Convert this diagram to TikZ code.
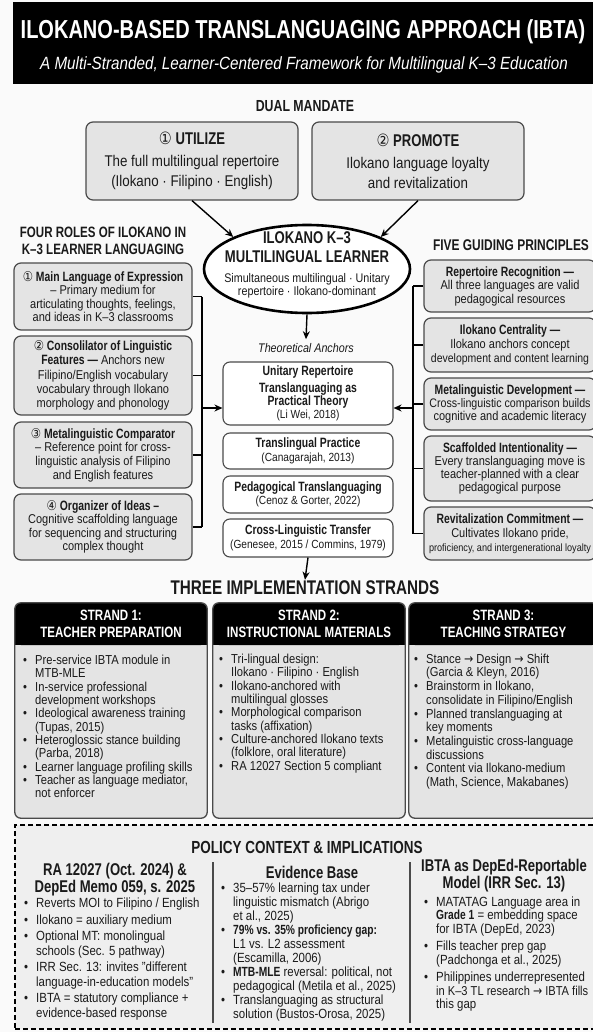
\documentclass[tikz,border=0pt]{standalone}
\usepackage{fontspec}
\setmainfont{Liberation Sans}[UprightFeatures={FakeStretch=0.86},BoldFeatures={FakeStretch=0.77},ItalicFeatures={FakeStretch=0.86},BoldItalicFeatures={FakeStretch=0.77}]
\newfontfamily\dejavu{DejaVu Sans}[FakeStretch=0.85]
\usetikzlibrary{shapes.geometric,arrows.meta}
\newcommand\fsz[2]{\fontsize{#1}{#2}\selectfont}
\newcommand\bitem{\makebox[12pt][l]{\textbullet}}
\newcommand\bcont{\hspace*{12pt}}
\newcommand\cnum[1]{{\dejavu\mdseries #1}}
\newcommand\rarr{{\dejavu\mdseries →}}
\definecolor{boxfill}{HTML}{E4E4E4}
\definecolor{edge}{HTML}{4A4A4A}
\definecolor{ink}{HTML}{1A1A1A}
\definecolor{polfill}{HTML}{EFEFEF}
\definecolor{bg}{HTML}{FAFAFA}
\begin{document}
\begin{tikzpicture}[x=1pt,y=-1pt,
  lbox/.style={draw=edge, fill=boxfill, line width=1.2pt, rounded corners=7pt, align=center, inner sep=0pt, text=ink},
  tbox/.style={draw=edge, fill=white, line width=1.1pt, rounded corners=7pt, align=center, inner sep=0pt, text=ink},
  txt/.style={inner sep=0pt, align=center, text=ink},
  ltxt/.style={inner sep=0pt, align=left, text=ink, anchor=west},
  sbox/.style={fill=boxfill, inner sep=0pt, rounded corners=6pt},
  sedge/.style={draw=edge, line width=1.3pt, rounded corners=6pt},
  shead/.style={inner sep=0pt, align=center, text=white, font=\fsz{15}{17}\bfseries},
  arr/.style={-{Stealth[length=8pt,width=7pt]}, line width=1.4pt, draw=black},
  brk/.style={line width=1.3pt, draw=black},
  sep/.style={line width=1.2pt, draw=edge}]
\useasboundingbox (0,0) rectangle (592,1032);
\fill[bg] (0,0) rectangle (592,1032);

% title
\node[fill=black, minimum width=592pt, minimum height=82pt, inner sep=0pt, anchor=north west] (titlebar) at (13,2) {};
\node[txt, text=white, font=\fsz{26}{28}\bfseries] (title) at (303,32) {ILOKANO-BASED TRANSLANGUAGING APPROACH (IBTA)};
\node[txt, text=white, font=\fsz{17.7}{20}\itshape] (subtitle) at (304,65) {A Multi-Stranded, Learner-Centered Framework for Multilingual K–3 Education};

% dual mandate
\node[txt, font=\fsz{16}{18}\bfseries] (dm) at (305,106) {DUAL MANDATE};
\node[lbox, minimum width=212pt, minimum height=78pt, font=\fsz{15.5}{20}] (u) at (192,161)
  {{\fsz{17}{20}\bfseries\cnum{①} UTILIZE}\\[2pt] The full multilingual repertoire\\ (Ilokano · Filipino · English)};
\node[lbox, minimum width=212pt, minimum height=78pt, font=\fsz{15.5}{20}] (p) at (418,161)
  {{\fsz{17}{20}\bfseries\cnum{②} PROMOTE}\\[2pt] Ilokano language loyalty\\ and revitalization};

% learner
\node[draw=black, fill=white, ellipse, line width=2.6pt, minimum width=206pt, minimum height=88pt, inner sep=0pt] (learner) at (307,269) {};
\node[txt, font=\fsz{12.5}{13.5}] (learnertxt) at (307,265)
  {{\fsz{17}{19}\bfseries ILOKANO K–3}\\[5.5pt] {\fsz{17}{19}\bfseries MULTILINGUAL LEARNER}\\[6.5pt] Simultaneous multilingual · Unitary\\ repertoire · Ilokano-dominant};
\draw[arr] (u.south) -- (learner.north west);
\draw[arr] (p.south) -- (learner.north east);

% left column
\node[txt, font=\fsz{15}{17}\bfseries] (fourh) at (103,241) {FOUR ROLES OF ILOKANO IN\\ K–3 LEARNER LANGUAGING};
\node[lbox, minimum width=178pt, minimum height=67pt, font=\fsz{12.8}{13.4}] (r1) at (103,296.5)
  {{\fsz{13.5}{13.4}\bfseries\cnum{①} Main Language of Expression}\\ – Primary medium for\\ articulating thoughts, feelings,\\ and ideas in K–3 classrooms};
\node[lbox, minimum width=178pt, minimum height=79pt, font=\fsz{12.8}{14.2}] (r2) at (103,375.5)
  {{\fsz{13.5}{14}\bfseries\cnum{②} Consolilator of Linguistic}\\ {\fsz{13.5}{14}\bfseries Features —} Anchors new\\ Filipino/English vocabulary\\ vocabulary through Ilokano\\ morphology and phonology};
\node[lbox, minimum width=178pt, minimum height=66pt, font=\fsz{12.8}{13.6}] (r3) at (103,455)
  {{\fsz{13.5}{14}\bfseries\cnum{③} Metalinguistic Comparator}\\ – Reference point for cross-\\ linguistic analysis of Filipino\\ and English features};
\node[lbox, minimum width=178pt, minimum height=66pt, font=\fsz{12.8}{13.4}] (r4) at (103,527)
  {{\fsz{13.5}{14}\bfseries\cnum{④} Organizer of Ideas –}\\ Cognitive scaffolding language\\ for sequencing and structuring\\ complex thought};

% right column
\node[txt, font=\fsz{15.5}{17}\bfseries] (fiveh) at (511,245) {FIVE GUIDING PRINCIPLES};
\node[lbox, minimum width=172pt, minimum height=52pt, font=\fsz{12.8}{13.5}] (p1) at (510,286)
  {{\fsz{13.5}{14}\bfseries Repertoire Recognition —}\\ All three languages are valid\\ pedagogical resources};
\node[lbox, minimum width=172pt, minimum height=54pt, font=\fsz{12.8}{14}] (p2) at (510,345)
  {{\fsz{13.5}{14}\bfseries Ilokano Centrality —}\\ Ilokano anchors concept\\ {\fsz{12.2}{14}development and content learning}};
\node[lbox, minimum width=172pt, minimum height=52pt, font=\fsz{12.8}{13.2}] (p3) at (510,404)
  {{\fsz{13.5}{14}\bfseries Metalinguistic Development —}\\ {\fsz{12.4}{13.2}Cross-linguistic comparison builds}\\ cognitive and academic literacy};
\node[lbox, minimum width=172pt, minimum height=65pt, font=\fsz{12.8}{13.2}] (p4) at (510,468.5)
  {{\fsz{13.5}{14}\bfseries Scaffolded Intentionality —}\\ Every translanguaging move is\\ teacher-planned with a clear\\ pedagogical purpose};
\node[lbox, minimum width=172pt, minimum height=53pt, font=\fsz{12.8}{14}] (p5) at (510,533.5)
  {{\fsz{13.5}{14}\bfseries Revitalization Commitment —}\\ Cultivates Ilokano pride,\\ {\fsz{10.6}{14}proficiency, and intergenerational loyalty}};

% theoretical anchors
\node[txt, inner sep=4pt, font=\fsz{12.5}{14}\itshape] (ta) at (306,348) {Theoretical Anchors};
\draw[arr] (learner.south) -- (ta.north);
\node[tbox, minimum width=170pt, minimum height=63pt, font=\fsz{13.5}{13}\bfseries] (t1) at (308,393.5)
  {Unitary Repertoire\\[4pt] Translanguaging as\\ Practical Theory\\ {\fsz{11.8}{12}\mdseries (Li Wei, 2018)}};
\node[tbox, minimum width=170pt, minimum height=36pt, font=\fsz{11.8}{14}] (t2) at (308,451)
  {{\fsz{13.5}{14}\bfseries Translingual Practice}\\ (Canagarajah, 2013)};
\node[tbox, minimum width=170pt, minimum height=37pt, font=\fsz{11.8}{13.5}] (t3) at (308,494.5)
  {{\fsz{13.5}{14}\bfseries Pedagogical Translanguaging}\\ (Cenoz \& Gorter, 2022)};
\node[tbox, minimum width=170pt, minimum height=38pt, font=\fsz{11.8}{13.5}] (t4) at (308,538)
  {{\fsz{13.5}{14}\bfseries Cross-Linguistic Transfer}\\ (Genesee, 2015 / Commins, 1979)};

% brackets
\coordinate (lx) at (202,408);
\coordinate (rx) at (413,408);
\foreach \n in {r1,r2,r3,r4} \draw[brk] (\n.east) -- (\n.east -| lx);
\draw[brk] (r1.east -| lx) -- (r4.east -| lx);
\draw[arr] (lx) -- (lx -| t1.west);
\foreach \n in {p1,p2,p3,p4,p5} \draw[brk] (\n.west) -- (\n.west -| rx);
\draw[brk] (p1.west -| rx) -- (p5.west -| rx);
\draw[arr] (rx) -- (rx -| t1.east);

% strands
\node[txt, inner sep=1pt, font=\fsz{19.8}{21}\bfseries] (three) at (305,588) {THREE IMPLEMENTATION STRANDS};
\draw[arr] (t4.south) -- (three.north);
\coordinate (hb) at (0,645);
\coordinate (hm) at (0,625);
\node[sbox, minimum width=192pt, minimum height=215pt] (s1) at (111,710.5) {};
\node[sbox, minimum width=192pt, minimum height=215pt] (s2) at (309,710.5) {};
\node[sbox, minimum width=189pt, minimum height=215pt] (s3) at (503.5,710.5) {};
\foreach \s in {s1,s2,s3} {
  \fill[black, rounded corners=6pt] (\s.north west) rectangle (\s.east |- hb);
  \fill[black] (\s.west |- hm) rectangle (\s.east |- hb);
  \draw[sedge] (\s.south west) rectangle (\s.north east);
}
\node[shead] (s1h) at (111,623.5) {STRAND 1:\\ TEACHER PREPARATION};
\node[shead] (s2h) at (309,623.5) {STRAND 2:\\ INSTRUCTIONAL MATERIALS};
\node[shead] (s3h) at (503.5,623.5) {STRAND 3:\\ TEACHING STRATEGY};

\node[ltxt, font=\fsz{13}{13.3}] (s1l) at (23,726.5)
  {\bitem Pre-service IBTA module in\\ \bcont MTB-MLE\\ \bitem In-service professional\\ \bcont development workshops\\
   \bitem Ideological awareness training\\ \bcont (Tupas, 2015)\\ \bitem Heteroglossic stance building\\ \bcont (Parba, 2018)\\
   \bitem Learner language profiling skills\\ \bitem Teacher as language mediator,\\ \bcont not enforcer};
\node[ltxt, font=\fsz{13}{13.3}] (s2l) at (219,713.5)
  {\bitem Tri-lingual design:\\ \bcont Ilokano · Filipino · English\\ \bitem Ilokano-anchored with\\ \bcont multilingual glosses\\
   \bitem Morphological comparison\\ \bcont tasks (affixation)\\ \bitem Culture-anchored Ilokano texts\\ \bcont (folklore, oral literature)\\
   \bitem RA 12027 Section 5 compliant};
\node[ltxt, font=\fsz{13}{13.7}] (s3l) at (414,721.5)
  {\bitem Stance \rarr{} Design \rarr{} Shift\\ \bcont (Garcia \& Kleyn, 2016)\\ \bitem Brainstorm in Ilokano,\\ \bcont consolidate in Filipino/English\\
   \bitem Planned translanguaging at\\ \bcont key moments\\ \bitem Metalinguistic cross-language\\ \bcont discussions\\
   \bitem Content via Ilokano-medium\\ \bcont (Math, Science, Makabanes)};

% policy
\node[draw=black, dash pattern=on 5pt off 3pt, line width=1.6pt, fill=polfill, minimum width=583pt, minimum height=204pt, inner sep=0pt] (pol) at (306.5,927) {};
\node[txt, font=\fsz{17.5}{19}\bfseries] (polh) at (307,847) {POLICY CONTEXT \& IMPLICATIONS};
\draw[sep] (213,862) -- (213,1023);
\draw[sep] (410,862) -- (410,1023);
\node[txt, font=\fsz{17}{15.5}\bfseries] (c1h) at (115,880) {RA 12027 (Oct. 2024) \&\\ DepEd Memo 059, s. 2025};
\node[txt, font=\fsz{17}{15.5}\bfseries] (c2h) at (312,872) {Evidence Base};
\node[txt, font=\fsz{17}{15.5}\bfseries] (c3h) at (504,876) {IBTA as DepEd-Reportable\\ Model (IRR Sec. 13)};
\node[ltxt, font=\fsz{13.3}{14.5}] (c1l) at (24,959)
  {\bitem Reverts MOI to Filipino / English\\[2pt] \bitem Ilokano = auxiliary medium\\[2pt] \bitem Optional MT: monolingual\\ \bcont schools (Sec. 5 pathway)\\[2pt]
   \bitem IRR Sec. 13: invites "different\\ \bcont language-in-education models"\\[2pt] \bitem IBTA = statutory compliance +\\ \bcont evidence-based response};
\node[ltxt, font=\fsz{13.3}{14}] (c2l) at (221,952)
  {\bitem 35–57\% learning tax under\\ \bcont linguistic mismatch (Abrigo\\ \bcont et al., 2025)\\ \bitem \textbf{79\% vs. 35\% proficiency gap:}\\ \bcont L1 vs. L2 assessment\\ \bcont (Escamilla, 2006)\\
   \bitem \textbf{MTB-MLE} reversal: political, not\\ \bcont pedagogical (Metila et al., 2025)\\ \bitem Translanguaging as structural\\ \bcont solution (Bustos-Orosa, 2025)};
\node[ltxt, font=\fsz{13.3}{13.3}] (c3l) at (424,954)
  {\bitem MATATAG Language area in\\ \bcont \textbf{Grade 1} = embedding space\\ \bcont for IBTA (DepEd, 2023)\\[4.5pt] \bitem Fills teacher prep gap\\ \bcont (Padchonga et al., 2025)\\[4.5pt]
   \bitem Philippines underrepresented\\ \bcont {\fsz{12.9}{13.3}in K–3 TL research \rarr{} IBTA fills}\\ \bcont this gap};
\end{tikzpicture}
\end{document}
